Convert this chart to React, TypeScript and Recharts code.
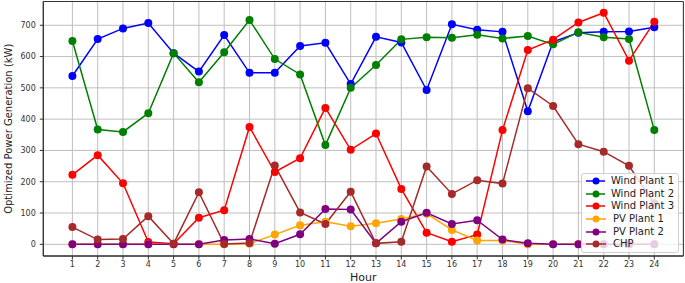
import React from 'react';
import { LineChart, Line, XAxis, YAxis, CartesianGrid, Legend, ReferenceArea, Label } from 'recharts';

const hours = [1, 2, 3, 4, 5, 6, 7, 8, 9, 10, 11, 12, 13, 14, 15, 16, 17, 18, 19, 20, 21, 22, 23, 24];
const windPlant1 = [538, 656, 690, 707, 611, 552, 669, 548, 548, 634, 644, 512, 663, 645, 493, 703, 686, 679, 425, 647, 676, 679, 680, 694];
const windPlant2 = [650, 367, 359, 419, 611, 518, 614, 717, 592, 543, 317, 500, 573, 655, 662, 660, 670, 658, 666, 639, 678, 662, 656, 365];
const windPlant3 = [222, 285, 195, 7, 2, 85, 109, 375, 231, 275, 436, 302, 354, 177, 37, 8, 31, 365, 621, 654, 709, 740, 587, 711];
const pvPlant1 = [0, 0, 0, 0, 0, 0, 0, 2, 31, 61, 72, 58, 67, 81, 98, 46, 12, 12, 0, 0, 0, 0, 0, 0];
const pvPlant2 = [0, 0, 0, 0, 0, 0, 14, 17, 2, 32, 113, 111, 3, 72, 101, 65, 77, 15, 3, 0, 0, 0, 0, 0];
const chp = [55, 15, 17, 90, 2, 166, 1, 4, 252, 102, 65, 168, 3, 8, 249, 161, 205, 194, 499, 442, 320, 296, 251, 131];

const yTicks = [0, 100, 200, 300, 400, 500, 600, 700];
const seriesKeys = ['w1', 'w2', 'w3', 'pv1', 'pv2', 'chp'];
const seriesNames = ['Wind Plant 1', 'Wind Plant 2', 'Wind Plant 3', 'PV Plant 1', 'PV Plant 2', 'CHP'];
const seriesColors = ['#0000ff', '#008000', '#ff0000', '#ffa500', '#800080', '#a52a2a'];
const seriesValues = [windPlant1, windPlant2, windPlant3, pvPlant1, pvPlant2, chp];

const data = hours.map((h, i) => {
  const row: Record<string, number> = { hour: h };
  seriesKeys.forEach((k, j) => {
    row[k] = seriesValues[j][i];
  });
  return row;
});

const FONT = '"DejaVu Sans", sans-serif';
const X_DOMAIN: [number, number] = [-0.15, 25.15];
const Y_DOMAIN: [number, number] = [-37.4, 776];

const renderLegend = () => (
  <div
    style={{
      background: 'rgba(255,255,255,0.8)',
      border: '1px solid #d0d0d0',
      borderRadius: 3,
      padding: '1px 4px 1px 3px',
      fontFamily: FONT,
      fontSize: 10,
      color: '#222',
      boxSizing: 'border-box',
      width: 98,
    }}
  >
    {seriesNames.map((name, i) => (
      <div key={name} style={{ display: 'flex', alignItems: 'center', height: 12.6 }}>
        <svg width={22} height={10} style={{ display: 'block' }}>
          <line x1={1} y1={5} x2={21} y2={5} stroke={seriesColors[i]} strokeWidth={1.5} />
          <circle cx={11} cy={5} r={3.5} fill={seriesColors[i]} />
        </svg>
        <span style={{ marginLeft: 6, whiteSpace: 'nowrap', lineHeight: '12px' }}>{name}</span>
      </div>
    ))}
  </div>
);

export default function App() {
  return (
    <div style={{ position: 'absolute', left: 0, top: 0 }}>
      <LineChart width={685} height={283} data={data} margin={{ top: 1.5, right: 1.6, left: 0, bottom: 0 }}>
        <CartesianGrid stroke="#bfbfbf" strokeWidth={1} verticalPoints={undefined} />
        <XAxis
          dataKey="hour"
          type="number"
          domain={X_DOMAIN}
          allowDataOverflow
          ticks={hours}
          interval={0}
          height={27}
          tickSize={3.5}
          tickMargin={2}
          axisLine={{ stroke: '#333' }}
          tickLine={{ stroke: '#333' }}
          tick={{ fontSize: 8, fill: '#333', fontFamily: FONT }}
        >
          <Label value="Hour" position="insideBottom" offset={2} style={{ fontSize: 11, fill: '#222', fontFamily: FONT }} />
        </XAxis>
        <YAxis
          type="number"
          domain={Y_DOMAIN}
          allowDataOverflow
          ticks={yTicks}
          interval={0}
          width={43.3}
          tickSize={3.5}
          tickMargin={4}
          axisLine={{ stroke: '#333' }}
          tickLine={{ stroke: '#333' }}
          tick={{ fontSize: 8, fill: '#333', fontFamily: FONT }}
        >
          <Label
            value="Optimized Power Generation (kW)"
            angle={-90}
            position="insideLeft"
            offset={8}
            style={{ fontSize: 10, fill: '#222', fontFamily: FONT, textAnchor: 'middle' }}
          />
        </YAxis>
        <ReferenceArea
          x1={X_DOMAIN[0]}
          x2={X_DOMAIN[1]}
          y1={Y_DOMAIN[0]}
          y2={Y_DOMAIN[1]}
          fill="none"
          stroke="#333"
          strokeWidth={1}
          ifOverflow="visible"
        />
        {seriesKeys.map((k, i) => (
          <Line
            key={k}
            dataKey={k}
            name={seriesNames[i]}
            stroke={seriesColors[i]}
            strokeWidth={1.5}
            dot={{ r: 4, fill: seriesColors[i], stroke: seriesColors[i], strokeWidth: 0 }}
            activeDot={false}
            isAnimationActive={false}
          />
        ))}
        <Legend
          layout="vertical"
          align="center"
          verticalAlign="middle"
          content={renderLegend}
          wrapperStyle={{ position: 'absolute', left: 581, top: 173, width: 98, height: 'auto' }}
        />
      </LineChart>
    </div>
  );
}
